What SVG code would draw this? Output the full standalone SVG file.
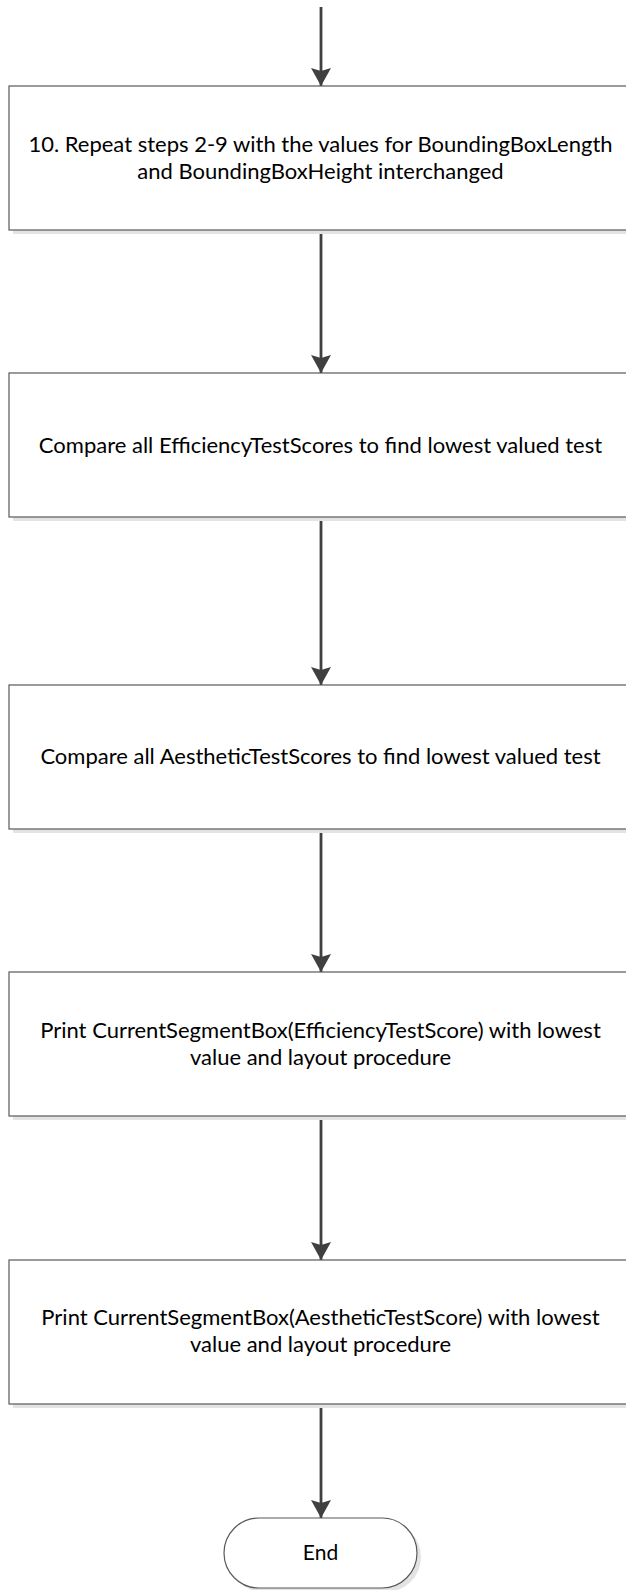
<svg xmlns="http://www.w3.org/2000/svg" width="626" height="1590" viewBox="0 0 626 1590">
<style>
.box{fill:#ffffff;stroke:#595959;stroke-width:1.2}
.shadow{fill:#e3e3e3}
.conn{stroke:#404040;stroke-width:2.8;fill:none}
.lbl{font-family:Lato,"Liberation Sans",sans-serif;font-size:22px;fill:#000000;text-anchor:middle}
</style>
<defs>
<marker id="arr" markerWidth="18" markerHeight="20" refX="18" refY="10" orient="auto" markerUnits="userSpaceOnUse" viewBox="0 0 18 20">
<path d="M0,0 L18,10 L0,20 L3,10 z" fill="#404040"/>
</marker>
</defs>
<rect width="626" height="1590" fill="#ffffff"/>
<g id="connectors">
<line class="conn" x1="321" y1="7" x2="321" y2="86" marker-end="url(#arr)"/>
<line class="conn" x1="321" y1="230" x2="321" y2="373" marker-end="url(#arr)"/>
<line class="conn" x1="321" y1="517" x2="321" y2="685" marker-end="url(#arr)"/>
<line class="conn" x1="321" y1="829" x2="321" y2="972" marker-end="url(#arr)"/>
<line class="conn" x1="321" y1="1116" x2="321" y2="1260" marker-end="url(#arr)"/>
<line class="conn" x1="321" y1="1404" x2="321" y2="1518" marker-end="url(#arr)"/>
</g>
<g id="n1">
<rect class="shadow" x="13" y="90" width="620" height="144"/>
<rect class="box" x="9" y="86" width="620" height="144"/>
<text class="lbl" x="320.5" y="151.5">10. Repeat steps 2-9 with the values for BoundingBoxLength</text>
<text class="lbl" x="320.5" y="178.5">and BoundingBoxHeight interchanged</text>
</g>
<g id="n2">
<rect class="shadow" x="13" y="377" width="620" height="144"/>
<rect class="box" x="9" y="373" width="620" height="144"/>
<text class="lbl" x="320.5" y="453">Compare all EfficiencyTestScores to find lowest valued test</text>
</g>
<g id="n3">
<rect class="shadow" x="13" y="689" width="620" height="144"/>
<rect class="box" x="9" y="685" width="620" height="144"/>
<text class="lbl" x="320.5" y="764">Compare all AestheticTestScores to find lowest valued test</text>
</g>
<g id="n4">
<rect class="shadow" x="13" y="976" width="620" height="144"/>
<rect class="box" x="9" y="972" width="620" height="144"/>
<text class="lbl" x="320.5" y="1038">Print CurrentSegmentBox(EfficiencyTestScore) with lowest</text>
<text class="lbl" x="320.5" y="1065">value and layout procedure</text>
</g>
<g id="n5">
<rect class="shadow" x="13" y="1264" width="620" height="144"/>
<rect class="box" x="9" y="1260" width="620" height="144"/>
<text class="lbl" x="320.5" y="1325">Print CurrentSegmentBox(AestheticTestScore) with lowest</text>
<text class="lbl" x="320.5" y="1352">value and layout procedure</text>
</g>
<g id="end">
<rect class="shadow" x="228" y="1522" width="193" height="70" rx="35" ry="35"/>
<rect class="box" x="224" y="1518" width="193" height="70" rx="35" ry="35"/>
<text class="lbl" x="320.5" y="1560" style="font-size:21px">End</text>
</g>
</svg>
